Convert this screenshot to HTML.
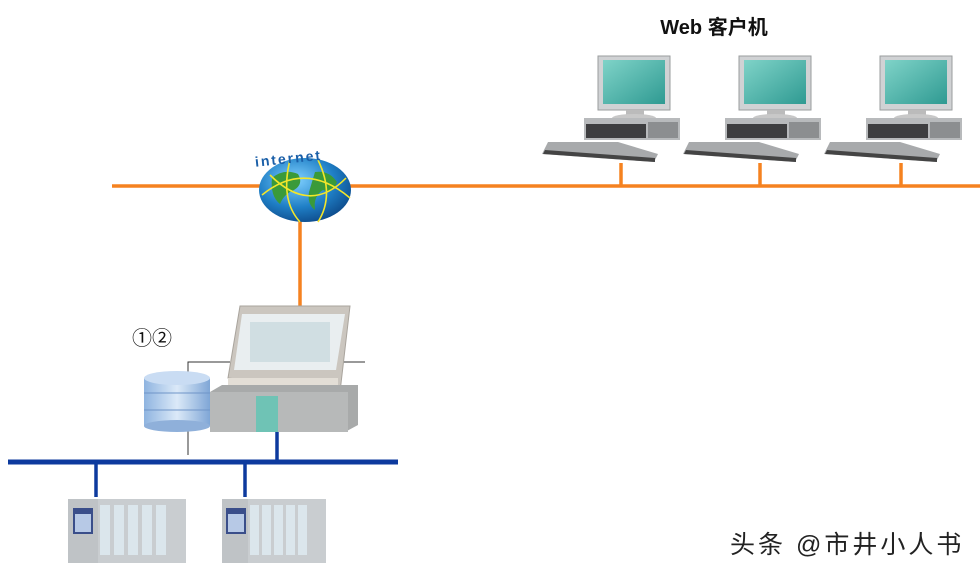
<!DOCTYPE html>
<html><head><meta charset="utf-8"><style>
body{margin:0;background:#fff;}
svg{display:block;font-family:"Liberation Sans","Noto Sans CJK SC",sans-serif;}
</style></head><body>
<svg width="980" height="573" viewBox="0 0 980 573" xmlns="http://www.w3.org/2000/svg">
<defs>
<linearGradient id="scr" x1="0" y1="0" x2="1" y2="1"><stop offset="0" stop-color="#7fd3c8"/><stop offset="1" stop-color="#2f9a92"/></linearGradient>
<linearGradient id="db" x1="0" y1="0" x2="1" y2="0"><stop offset="0" stop-color="#8fb4e0"/><stop offset=".5" stop-color="#dbe9f8"/><stop offset="1" stop-color="#7fa6d6"/></linearGradient>
<radialGradient id="gl" cx=".4" cy=".35" r=".7"><stop offset="0" stop-color="#7fd0ff"/><stop offset=".6" stop-color="#1f7fc6"/><stop offset="1" stop-color="#0d4a8a"/></radialGradient>
</defs>
<text x="714" y="34" text-anchor="middle" font-size="20" font-weight="bold" fill="#111">Web 客户机</text>
<line x1="112" y1="186" x2="980" y2="186" stroke="#f58220" stroke-width="3.5"/>
<line x1="300" y1="186" x2="300" y2="310" stroke="#f58220" stroke-width="3.5"/>
<line x1="621" y1="163" x2="621" y2="186" stroke="#f58220" stroke-width="3.5"/>
<line x1="760" y1="163" x2="760" y2="186" stroke="#f58220" stroke-width="3.5"/>
<line x1="901" y1="163" x2="901" y2="186" stroke="#f58220" stroke-width="3.5"/>
<ellipse cx="305" cy="190" rx="46" ry="32" fill="url(#gl)"/>
<path d="M272 178 q12 -10 26 -4 q6 10 -4 16 q-10 4 -14 14 q-10 -8 -8 -26z M315 172 q14 -2 22 10 q-4 12 -14 8 q-10 6 -8 20 q-8 -6 -6 -18z" fill="#3a9a3a"/>
<path d="M262 195 Q305 160 350 198 M270 175 Q310 215 346 178 M290 160 Q280 200 300 222 M318 160 Q335 195 318 222" stroke="#f3e62a" stroke-width="1.6" fill="none"/>
<text x="255" y="162" font-size="14" font-weight="bold" fill="#1a5fa8" letter-spacing="2" transform="rotate(-6 300 160)">internet</text>
<g id="pc">
<rect x="598" y="56" width="72" height="54" fill="#d0d2d4" stroke="#9a9c9e"/>
<rect x="603" y="60" width="62" height="44" fill="url(#scr)"/>
<rect x="626" y="110" width="18" height="6" fill="#bbb"/>
<ellipse cx="634" cy="118" rx="22" ry="4" fill="#c8c8c8"/>
<path d="M584 118 h96 v22 h-96z" fill="#b8babc"/>
<rect x="586" y="124" width="60" height="14" fill="#3e3e40"/>
<rect x="648" y="122" width="30" height="16" fill="#8c8e90"/>
<path d="M548 142 l70 0 l40 12 l-4 8 l-112 -8z" fill="#a8aaac"/>
<path d="M545 150 l110 8 l0 4 l-112 -8z" fill="#444"/>
</g>
<use href="#pc" x="141" y="0"/>
<use href="#pc" x="282" y="0"/>
<line x1="8" y1="462" x2="398" y2="462" stroke="#0d3a9e" stroke-width="5"/>
<line x1="96" y1="462" x2="96" y2="497" stroke="#0d3a9e" stroke-width="3.5"/>
<line x1="245" y1="462" x2="245" y2="497" stroke="#0d3a9e" stroke-width="3.5"/>
<line x1="277" y1="430" x2="277" y2="462" stroke="#0d3a9e" stroke-width="3.5"/>
<path d="M188 372 V362 H230 M340 362 H365 M188 430 V455" stroke="#333" stroke-width="1" fill="none"/>
<text x="132" y="345" font-size="20" fill="#111">①②</text>
<path d="M228 378 L240 306 L350 306 L340 392 Z" fill="#cbc6bf" stroke="#a9a49d"/>
<path d="M242 314 L345 314 L336 370 L234 370 Z" fill="#e9eef0"/>
<rect x="250" y="322" width="80" height="40" fill="#c4d7dc" opacity=".7"/>
<rect x="228" y="378" width="110" height="14" fill="#e3ded6"/>
<path d="M210 392 L222 385 L358 385 L358 425 L345 432 L210 432 Z" fill="#a8aaaa"/>
<rect x="210" y="392" width="138" height="40" fill="#b7b9b9"/>
<rect x="256" y="396" width="22" height="36" fill="#6fc3b5"/>
<g>
<rect x="144" y="378" width="66" height="48" fill="url(#db)"/>
<ellipse cx="177" cy="426" rx="33" ry="6" fill="#8fb0da"/>
<ellipse cx="177" cy="378" rx="33" ry="7" fill="#c9dcf3"/>
<line x1="144" y1="393" x2="210" y2="393" stroke="#6f95c8"/>
<line x1="144" y1="410" x2="210" y2="410" stroke="#6f95c8"/>
</g>
<g>
<rect x="68" y="499" width="118" height="64" fill="#c9cdd0"/>
<rect x="68" y="499" width="30" height="64" fill="#bfc3c6"/>
<rect x="73" y="508" width="20" height="26" fill="#3a4e8a"/>
<rect x="75" y="514" width="16" height="18" fill="#b7c9e6"/>
<rect x="100" y="505" width="10" height="50" fill="#dbe6ec"/>
<rect x="114" y="505" width="10" height="50" fill="#dbe6ec"/>
<rect x="128" y="505" width="10" height="50" fill="#dbe6ec"/>
<rect x="142" y="505" width="10" height="50" fill="#dbe6ec"/>
<rect x="156" y="505" width="10" height="50" fill="#dbe6ec"/>
</g>
<g>
<rect x="222" y="499" width="104" height="64" fill="#c9cdd0"/>
<rect x="222" y="499" width="26" height="64" fill="#bfc3c6"/>
<rect x="226" y="508" width="20" height="26" fill="#3a4e8a"/>
<rect x="228" y="514" width="16" height="18" fill="#b7c9e6"/>
<rect x="250" y="505" width="9" height="50" fill="#dbe6ec"/>
<rect x="262" y="505" width="9" height="50" fill="#dbe6ec"/>
<rect x="274" y="505" width="9" height="50" fill="#dbe6ec"/>
<rect x="286" y="505" width="9" height="50" fill="#dbe6ec"/>
<rect x="298" y="505" width="9" height="50" fill="#dbe6ec"/>
</g>
<text x="730" y="553" font-size="25" fill="#222" letter-spacing="3">头条 @市井小人书</text>
</svg>
</body></html>
